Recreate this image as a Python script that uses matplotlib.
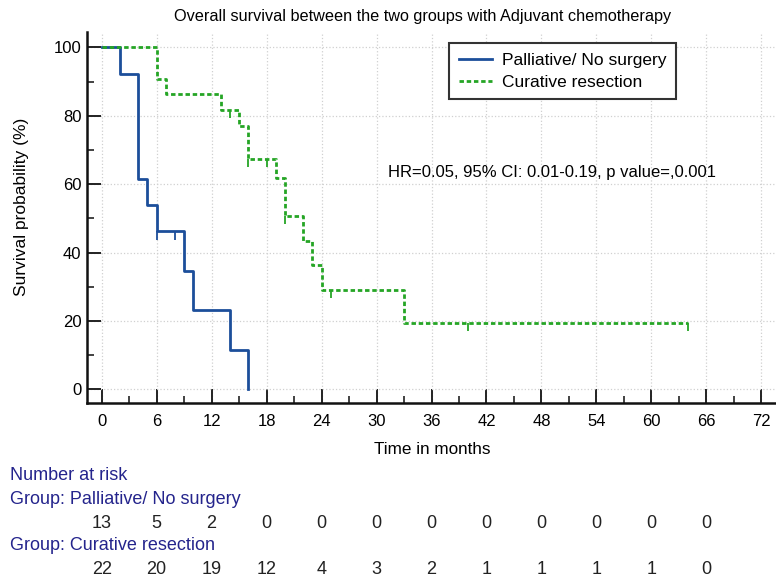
import numpy as np
import matplotlib
matplotlib.use('Agg')
import matplotlib.pyplot as plt
from matplotlib.ticker import MultipleLocator
from matplotlib.transforms import blended_transform_factory

plt.rcParams['font.family'] = ['Liberation Sans', 'DejaVu Sans']

# Kaplan-Meier steps (months, survival %)
palliative_t = [0, 2, 4, 5, 6, 9, 10, 14, 16]
palliative_s = [100, 92.3, 61.5, 53.8, 46.2, 34.6, 23.1, 11.5, 0]
palliative_censor = [6, 8]

curative_t = [0, 6, 7, 13, 15, 16, 19, 20, 22, 23, 24, 33, 64]
curative_s = [100, 90.9, 86.4, 81.8, 77.0, 67.4, 61.7, 50.7, 43.4, 36.3, 29.1, 19.4, 19.4]
curative_censor = [14, 16, 18, 20, 25, 40, 64]

risk_times = [0, 6, 12, 18, 24, 30, 36, 42, 48, 54, 60, 66]
risk_palliative = [13, 5, 2, 0, 0, 0, 0, 0, 0, 0, 0, 0]
risk_curative = [22, 20, 19, 12, 4, 3, 2, 1, 1, 1, 1, 0]

blue = '#1c4e9a'
green = '#25a525'
navy = '#24248c'


def surv_at(times, surv, t):
    idx = np.searchsorted(times, t, side='right') - 1
    return np.array(surv)[idx]


fig = plt.figure(figsize=(7.76, 5.83), dpi=100)
ax = fig.add_axes([87 / 776, 1 - 402.7 / 583, 689 / 776, (402.7 - 32) / 583])

ax.step(palliative_t, palliative_s, where='post', color=blue, lw=2.0,
        label='Palliative/ No surgery')
ax.step(curative_t, curative_s, where='post', color=green, lw=2.0,
        linestyle=(0, (1.6, 1.0)), label='Curative resection')

# censor marks hang down from the curve
ys = surv_at(palliative_t, palliative_s, palliative_censor)
ax.vlines(palliative_censor, ys - 2.4, ys, color=blue, lw=1.3)
ys = surv_at(curative_t, curative_s, curative_censor)
ax.vlines(curative_censor, ys - 2.4, ys, color=green, lw=1.3)

ax.set_xlim(-1.6, 73.6)
ax.set_ylim(-3.9, 104.5)
ax.xaxis.set_major_locator(MultipleLocator(6))
ax.xaxis.set_minor_locator(MultipleLocator(3))
ax.yaxis.set_major_locator(MultipleLocator(20))
ax.yaxis.set_minor_locator(MultipleLocator(10))
ax.tick_params(which='major', direction='in', length=10, width=1.4,
               labelsize=12, pad=8, color='#222222')
ax.tick_params(which='minor', direction='in', length=5, width=1.2, color='#222222')
ax.tick_params(axis='y', pad=4)
ax.grid(True, which='major', color='#d0d0d0', linestyle=':', lw=0.9)
ax.set_axisbelow(True)
for side in ['top', 'right']:
    ax.spines[side].set_visible(False)
for side in ['left', 'bottom']:
    ax.spines[side].set_linewidth(1.8)
    ax.spines[side].set_color('#111111')

ax.set_xlabel('Time in months', fontsize=12.3)
ax.xaxis.set_label_coords(0.5007, (402.7 - 449) / 370.7)
ax.xaxis.label.set_va('center')
ax.set_ylabel('Survival probability (%)', fontsize=12.5)
ax.yaxis.set_label_coords((22 - 87) / 689, (402.7 - 207) / 370.7)
ax.yaxis.label.set_va('center')

fig.text(423 / 776, 1 - 17 / 583, 'Overall survival between the two groups with Adjuvant chemotherapy',
         ha='center', va='center', fontsize=11.7)

ax.text(31.25, 63.3, 'HR=0.05, 95% CI: 0.01-0.19, p value=,0.001',
        ha='left', va='center', fontsize=12)

leg = ax.legend(loc='upper left', bbox_to_anchor=((449 - 87) / 689, (402.7 - 43) / 370.7),
                borderaxespad=0, fancybox=False, framealpha=1, edgecolor='#333333',
                fontsize=12.5, handlelength=1.9, handletextpad=0.6, borderpad=0.55,
                labelspacing=0.4)
leg.get_frame().set_linewidth(1.5)

# number at risk table
tr = blended_transform_factory(ax.transData, fig.transFigure)
fig.text(10 / 776, 1 - 475 / 583, 'Number at risk', color=navy, fontsize=13, va='center')
fig.text(10 / 776, 1 - 499 / 583, 'Group: Palliative/ No surgery', color=navy, fontsize=13, va='center')
fig.text(10 / 776, 1 - 546 / 583, 'Group: Curative resection', color=navy, fontsize=13, va='center')
for t, n in zip(risk_times, risk_palliative):
    ax.text(t, 1 - 523 / 583, str(n), transform=tr, ha='center', va='center',
            fontsize=13, color='#222222')
for t, n in zip(risk_times, risk_curative):
    ax.text(t, 1 - 570 / 583, str(n), transform=tr, ha='center', va='center',
            fontsize=13, color='#222222')

fig.savefig('out.png', dpi=100)
